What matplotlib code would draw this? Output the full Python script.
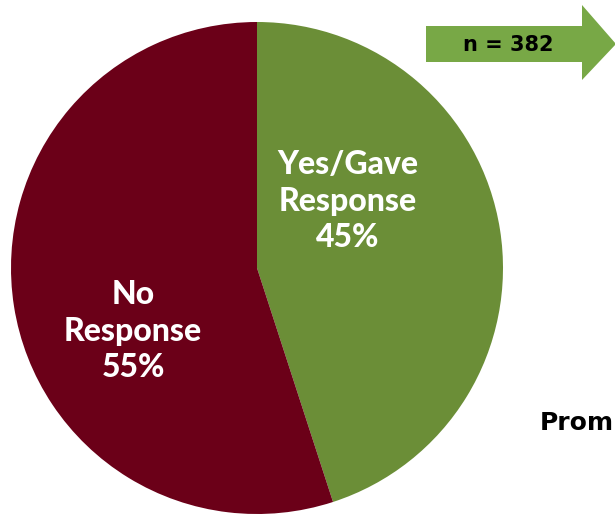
import matplotlib.pyplot as plt
from matplotlib.patches import Polygon

labels = ['Yes/Gave\nResponse\n45%', 'No\nResponse\n55%']
shares = [45, 55]
colors = ['#6b8e37', '#6b0018']
n_total = 382

plt.rcParams['font.family'] = ['Lato', 'DejaVu Sans']

fig = plt.figure(figsize=(6.15, 5.2), dpi=100)
ax = fig.add_axes([0, 0, 1, 1])

# y axis is flipped, so startangle=-90 is the top and counterclock=True runs clockwise on screen
wedges, texts = ax.pie(shares, colors=colors, startangle=-90, counterclock=True,
                       center=(257, 268), radius=246, frame=True,
                       wedgeprops=dict(linewidth=0))
ax.set_xlim(0, 615)
ax.set_ylim(520, 0)
ax.axis('off')

# labels inside the slices
ax.text(348, 201, labels[0], ha='center', va='center', color='white',
        fontsize=23, fontweight='black', linespacing=1.3)
ax.text(133, 331, labels[1], ha='center', va='center', color='white',
        fontsize=23, fontweight='black', linespacing=1.3)

# arrow with sample size
arrow = Polygon([(426, 26), (582, 26), (582, 5), (616, 44), (582, 80), (582, 62), (426, 62)],
                closed=True, facecolor='#78a846', edgecolor='none')
ax.add_patch(arrow)
ax.text(508, 45, f'n = {n_total}', ha='center', va='center', color='black',
        fontsize=15, fontweight='bold', family=['DejaVu Sans'])

ax.text(540, 423, 'Prom', ha='left', va='center', color='black',
        fontsize=18, fontweight='bold', family=['DejaVu Sans'])

fig.savefig('out.png', dpi=100)
